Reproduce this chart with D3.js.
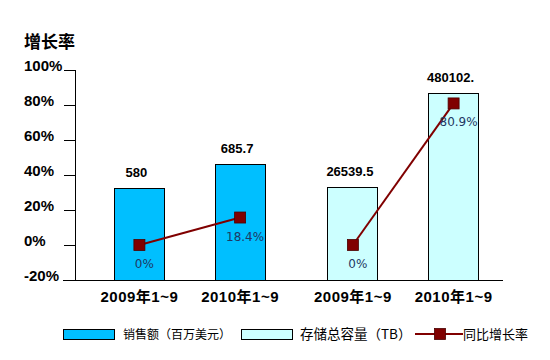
<!DOCTYPE html>
<html><head><meta charset="utf-8">
<script src="https://cdn.jsdelivr.net/npm/d3@7"></script>
<style>body{margin:0;background:#fff;}</style>
</head><body>
<script>
const years = ["2009年1~9", "2010年1~9"];
const groups = ["sales", "storage"];
const salesValues = [580, 685.7];
const salesLabels = ["580", "685.7"];
const storageValues = [26539.5, 480102];
const storageLabels = ["26539.5", "480102."];
const growthSales = [0, 15.7];
const growthStorage = [0, 80.9];
const growthSalesLabels = ["0%", "18.4%"];
const growthStorageLabels = ["0%", "80.9%"];
const yTicks = [-20, 0, 20, 40, 60, 80, 100];
const legendItems = ["销售额（百万美元）", "存储总容量（TB）", "同比增长率"];

const W = 550, H = 360;
const svg = d3.select("body").append("svg").attr("width", W).attr("height", H);
const font = "'Liberation Sans', Arial, 'Noto Sans CJK SC', sans-serif";
const cjk = "'Noto Sans CJK SC', sans-serif";

const axisLeft = 75, axisRight = 503, yTop = 70, yBottom = 280;
const y = d3.scaleLinear().domain([-20, 100]).range([yBottom, yTop]);
const ySales = d3.scaleLinear().domain([175, 660]).range([yBottom, 170]);
const yStorage = d3.scaleLinear().domain([-420000, 480000]).range([yBottom, 93.5]);

const xGroup = d3.scaleBand().domain(groups).range([83, 510]);
const xYear = d3.scalePoint().domain(years).range([0, xGroup.bandwidth()]).padding(0.56);
const barW = 50;

const colors = { sales: "#00BFFF", storage: "#CCFFFF", line: "#800000", marker: "#800000" };

// title
svg.append("text").attr("x", 24).attr("y", 48).text("增长率")
  .attr("font-family", cjk).attr("font-weight", "bold").attr("font-size", 17).attr("fill", "#000");

// y axis ticks + labels
const gy = svg.append("g");
yTicks.forEach(t => {
  gy.append("line").attr("x1", 64).attr("x2", axisLeft).attr("y1", y(t)).attr("y2", y(t))
    .attr("stroke", "#000").attr("stroke-width", 1).attr("shape-rendering", "crispEdges");
  gy.append("text").attr("x", 24).attr("y", y(t) + 0.5).text(t + "%")
    .attr("font-family", font).attr("font-weight", "bold").attr("font-size", 15).attr("fill", "#000");
});
svg.append("line").attr("x1", axisLeft).attr("x2", axisLeft).attr("y1", yTop).attr("y2", yBottom)
  .attr("stroke", "#000").attr("shape-rendering", "crispEdges");

// bars
const series = [
  { key: "sales", values: salesValues, labels: salesLabels, scale: ySales, growth: growthSales, glabels: growthSalesLabels },
  { key: "storage", values: storageValues, labels: storageLabels, scale: yStorage, growth: growthStorage, glabels: growthStorageLabels }
];
series.forEach(s => {
  const cx = i => xGroup(s.key) + xYear(years[i]);
  const g = svg.append("g");
  g.selectAll("rect").data(s.values).enter().append("rect")
    .attr("x", (d, i) => cx(i) - barW / 2).attr("width", barW)
    .attr("y", d => s.scale(d)).attr("height", d => yBottom - s.scale(d))
    .attr("fill", colors[s.key]).attr("stroke", "#000").attr("stroke-width", 1).attr("shape-rendering", "crispEdges");
  g.selectAll("text.val").data(s.labels).enter().append("text").attr("class", "val")
    .attr("x", (d, i) => cx(i) - 3).attr("y", (d, i) => s.scale(s.values[i]) - 11)
    .attr("text-anchor", "middle").text(d => d)
    .attr("font-family", font).attr("font-weight", "bold").attr("font-size", 13).attr("fill", "#000");
  // x labels
  g.selectAll("text.xl").data(years).enter().append("text").attr("class", "xl")
    .attr("x", (d, i) => cx(i)).attr("y", 302).attr("text-anchor", "middle").text(d => d)
    .attr("font-family", font).attr("font-weight", "bold").attr("font-size", 15)
    .attr("letter-spacing", 0.5).attr("fill", "#000");
});

// x axis line
svg.append("line").attr("x1", 63).attr("x2", axisRight).attr("y1", yBottom).attr("y2", yBottom)
  .attr("stroke", "#000").attr("shape-rendering", "crispEdges");

// growth lines
series.forEach(s => {
  const cx = i => xGroup(s.key) + xYear(years[i]);
  const line = d3.line().x((d, i) => cx(i)).y(d => y(d));
  svg.append("path").datum(s.growth).attr("d", line)
    .attr("fill", "none").attr("stroke", colors.line).attr("stroke-width", 2);
  svg.selectAll(null).data(s.growth).enter().append("rect")
    .attr("x", (d, i) => cx(i) - 5.5).attr("y", d => y(d) - 5.5)
    .attr("width", 11).attr("height", 11)
    .attr("fill", colors.marker).attr("stroke", "#4a0000").attr("stroke-width", 0.8);
  svg.selectAll(null).data(s.glabels).enter().append("text")
    .attr("x", (d, i) => cx(i) + 5).attr("y", (d, i) => y(s.growth[i]) + 23)
    .attr("text-anchor", "middle").text(d => d)
    .attr("font-family", "'DejaVu Sans', sans-serif").attr("font-size", 12).attr("fill", "#1f3864");
});

// legend
const ly = 334;
const lg = svg.append("g");
lg.append("rect").attr("x", 63).attr("y", ly - 5).attr("width", 51).attr("height", 10)
  .attr("fill", colors.sales).attr("stroke", "#000").attr("shape-rendering", "crispEdges");
lg.append("text").attr("x", 123).attr("y", ly + 5).text(legendItems[0])
  .attr("font-family", cjk).attr("font-size", 12).attr("fill", "#000");
lg.append("rect").attr("x", 241).attr("y", ly - 5).attr("width", 51).attr("height", 10)
  .attr("fill", colors.storage).attr("stroke", "#000").attr("shape-rendering", "crispEdges");
lg.append("text").attr("x", 300).attr("y", ly + 5).text(legendItems[1])
  .attr("font-family", cjk).attr("font-size", 13.5).attr("fill", "#000");
lg.append("line").attr("x1", 415).attr("x2", 463).attr("y1", ly).attr("y2", ly)
  .attr("stroke", colors.line).attr("stroke-width", 2);
lg.append("rect").attr("x", 434.5).attr("y", ly - 5.5).attr("width", 11).attr("height", 11)
  .attr("fill", colors.marker).attr("stroke", "#4a0000").attr("stroke-width", 0.8);
lg.append("text").attr("x", 463).attr("y", ly + 5).text(legendItems[2])
  .attr("font-family", cjk).attr("font-size", 13).attr("fill", "#000");
</script>
</body></html>
